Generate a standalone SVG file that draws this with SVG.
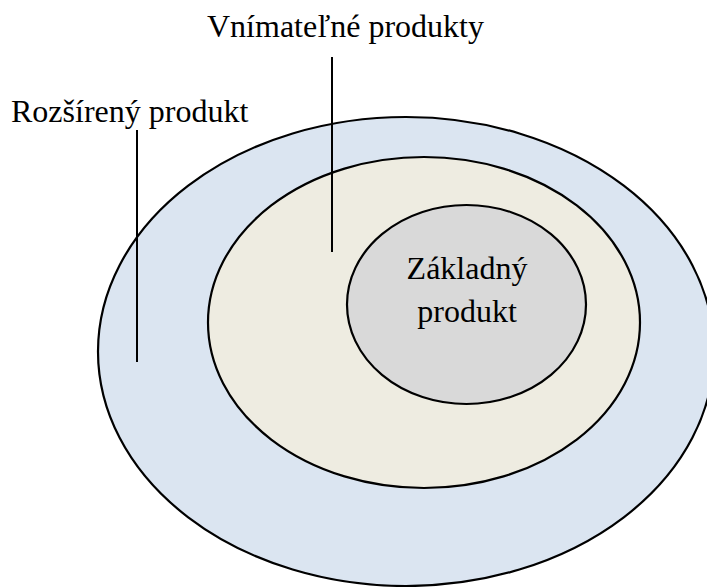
<svg xmlns="http://www.w3.org/2000/svg" width="707" height="587" viewBox="0 0 707 587">
<style>
.ring{stroke:#000;stroke-width:2.2}
.lbl{font-family:"Liberation Serif","Times New Roman",serif;font-size:32px;fill:#000}
.lead{stroke:#000;stroke-width:2;fill:none}
</style>
<rect width="707" height="587" fill="#fff"/>
<g id="outer">
<ellipse class="ring" cx="406" cy="351.5" rx="308" ry="234.5" fill="#DBE5F1"/>
</g>
<g id="middle">
<ellipse class="ring" cx="424" cy="322.5" rx="216" ry="165.5" fill="#EEECE1"/>
</g>
<g id="inner">
<ellipse class="ring" cx="466.5" cy="304.5" rx="119.5" ry="99.5" fill="#D9D9D9"/>
<text class="lbl" x="467" y="279" text-anchor="middle">Základný</text>
<text class="lbl" x="467" y="322" text-anchor="middle">produkt</text>
</g>
<g id="connectors">
<line class="lead" x1="137" y1="130" x2="137" y2="362"/>
<line class="lead" x1="332" y1="57" x2="332" y2="252"/>
</g>
<g id="label-rozsireny">
<text class="lbl" x="11" y="122">Rozšírený produkt</text>
</g>
<g id="label-vnimatelne">
<text class="lbl" x="207" y="37">Vnímateľné produkty</text>
</g>
</svg>
